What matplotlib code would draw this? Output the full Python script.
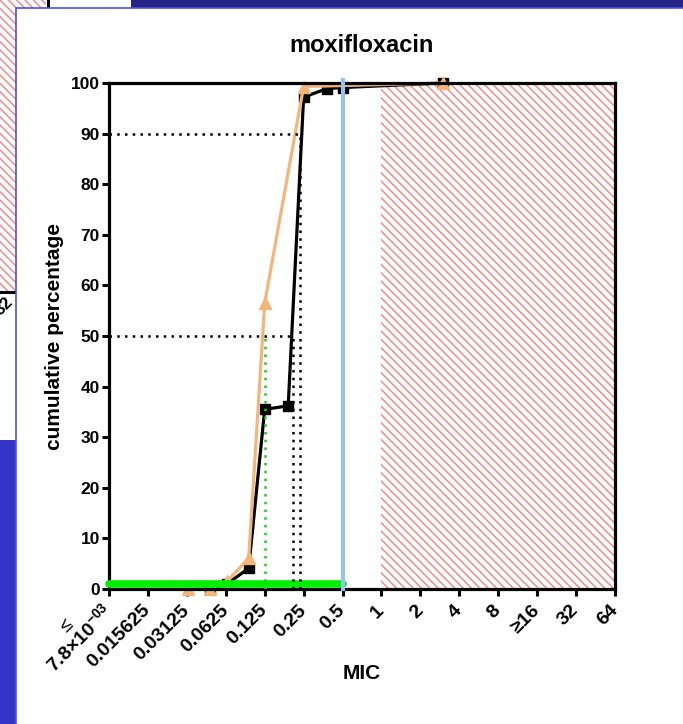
import matplotlib
matplotlib.use("Agg")
import matplotlib.pyplot as plt
from matplotlib.patches import Rectangle

plt.rcParams["font.family"] = ["Liberation Sans", "DejaVu Sans"]
plt.rcParams["font.weight"] = "bold"
plt.rcParams["mathtext.default"] = "regular"
plt.rcParams["hatch.linewidth"] = 1.1

# MIC values on the log2 axis and cumulative percentages
mic_ticks = [2 ** k for k in range(-7, 7)]
mic_labels = ["7.8×10$^{-03}$", "0.015625", "0.03125", "0.0625", "0.125", "0.25",
              "0.5", "1", "2", "4", "8", "≥16", "32", "64"]

black_mic = [0.047, 0.064, 0.094, 0.125, 0.19, 0.25, 0.38, 0.5, 3]
black_pct = [0, 1.0, 4.1, 35.5, 36.2, 97.2, 98.9, 99.1, 100]

orange_mic = [0.032, 0.047, 0.064, 0.094, 0.125, 0.25, 3]
orange_pct = [0, 0, 1.5, 6.1, 56.5, 99.3, 100]

mic50_black = 0.207
mic90_black = 0.234
mic50_orange = 0.125

breakpoint_mic = 0.5
resistant_range = [1, 64]
wild_type_range = [2 ** -7, 0.5]

W, H = 683, 724
fig = plt.figure(figsize=(W / 100, H / 100), dpi=100)
fig.patch.set_facecolor("white")


def px_rect(x0, y0, x1, y1, **kw):
    # rectangle from top-left pixel coords
    r = Rectangle((x0 / W, 1 - y1 / H), (x1 - x0) / W, (y1 - y0) / H,
                  transform=fig.transFigure, **kw)
    fig.patches.append(r)
    return r


# screenshot background: a chart behind the panel
hatch_red = "#f58a8a"
hatch = "\\\\\\\\"
px_rect(0, 0, 46, 293, facecolor="white", edgecolor=hatch_red, hatch=hatch,
        linewidth=0, zorder=0)
px_rect(0, 291, 16, 294, facecolor="black", linewidth=0, zorder=0.5)
px_rect(47, 0, 50, 8, facecolor="black", linewidth=0, zorder=0.5)
px_rect(52, 0, 131, 8, facecolor="white", linewidth=0, zorder=0.5)
px_rect(131, 0, 683, 8, facecolor="#242489", linewidth=0, zorder=0.5)
px_rect(0, 440, 16, 724, facecolor="#3434c6", linewidth=0, zorder=0.5)
fig.text(4 / W, 1 - 306 / H, "32", fontsize=12, rotation=45, ha="center",
         va="center", zorder=0.6)

# white panel of the main chart
px_rect(16, 8, 690, 730, facecolor="white", edgecolor="#5050e0", linewidth=1.2,
        zorder=1)

ax = fig.add_axes([109 / W, (H - 589) / H, 506 / W, 506 / H])
ax.set_zorder(5)
ax.patch.set_alpha(0)

ax.set_xscale("log", base=2)
ax.set_xlim(mic_ticks[0], mic_ticks[-1])
ax.set_ylim(0, 100)

ax.fill_between(resistant_range, 0, 100, facecolor="none", edgecolor=hatch_red,
                hatch=hatch, linewidth=0, zorder=1)

ax.plot(black_mic, black_pct, color="black", lw=2.3, marker="s", ms=7,
        clip_on=False, zorder=2)
ax.plot(orange_mic, orange_pct, color="#f4b57a", lw=2.3, marker="^", ms=8,
        clip_on=False, zorder=2.1)

ax.plot(wild_type_range, [1.0, 1.0], color="#00ee00", lw=5.5,
        solid_capstyle="round", clip_on=False, zorder=2.2)
ax.plot([breakpoint_mic, breakpoint_mic], [0, 100.6], color="#99c2f2", lw=3,
        clip_on=False, zorder=2.3)

dots = (0, (1, 2.1))
lw_dot = 1.8
ax.plot([mic_ticks[0], mic50_black], [50, 50], color="black", lw=lw_dot, ls=dots, zorder=3)
ax.plot([mic_ticks[0], mic90_black], [90, 90], color="black", lw=lw_dot, ls=dots, zorder=3)
ax.plot([mic50_black, mic50_black], [0, 50], color="black", lw=lw_dot, ls=dots, zorder=3)
ax.plot([mic90_black, mic90_black], [0, 90], color="black", lw=lw_dot, ls=dots, zorder=3)
ax.plot([mic50_orange, mic50_orange], [0, 50], color="#22cc22", lw=lw_dot, ls=dots, zorder=3)

for s in ax.spines.values():
    s.set_linewidth(2.3)
    s.set_zorder(2.15)

ax.set_xticks(mic_ticks)
ax.set_xticklabels(mic_labels, rotation=45, ha="right", va="center",
                   rotation_mode="anchor", fontsize=14, fontweight="bold")
ax.xaxis.set_minor_locator(matplotlib.ticker.NullLocator())
ax.set_yticks(range(0, 101, 10))
ax.tick_params(axis="y", which="major", direction="out", length=5, width=2.2,
               labelsize=12.5, pad=1.5, right=False)
ax.tick_params(axis="x", which="major", direction="out", length=5, width=2.2,
               labelsize=14, pad=8.5, top=False)
for lab in ax.get_yticklabels():
    lab.set_fontweight("bold")

ax.annotate("≤", xy=(mic_ticks[0], 0), xycoords="data", xytext=(-30, -27),
            textcoords="offset points", rotation=45, ha="center", va="center",
            fontsize=14, fontweight="normal", annotation_clip=False)

ax.set_title("moxifloxacin", fontsize=17, fontweight="bold", pad=22)
ax.set_ylabel("cumulative percentage", fontsize=15, fontweight="bold")
ax.yaxis.set_label_coords(-0.089, 0.5)
ax.set_xlabel("MIC", fontsize=15, fontweight="bold")
ax.xaxis.set_label_coords(0.5, -0.148)

fig.savefig("out.png", dpi=100)
